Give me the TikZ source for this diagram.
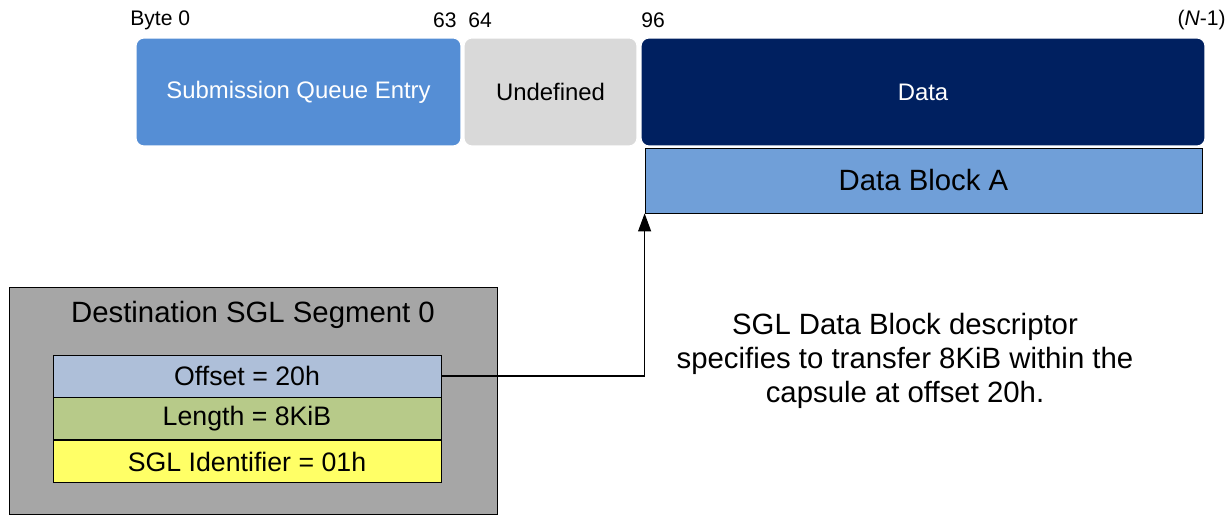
\documentclass[tikz,border=0pt]{standalone}
\usepackage{fontspec}
\setmainfont{Liberation Sans}
\usetikzlibrary{arrows.meta,positioning}
\definecolor{sqeblue}{RGB}{85,142,213}
\definecolor{undefgray}{RGB}{217,217,217}
\definecolor{datanavy}{RGB}{0,32,96}
\definecolor{blockblue}{RGB}{112,159,216}
\definecolor{seggray}{RGB}{166,166,166}
\definecolor{offsetblue}{RGB}{174,191,217}
\definecolor{lengthgreen}{RGB}{183,202,137}
\definecolor{sglyellow}{RGB}{255,255,102}

\begin{document}
\begin{tikzpicture}[x=0.02cm, y=-0.02cm,
    field/.style={rounded corners=0.16cm, draw=white, line width=0.6pt, minimum height=2.16cm,
      inner sep=0pt, font=\fontsize{13.6}{16}\selectfont},
    row/.style={draw=black, line width=0.5pt, minimum width=7.76cm, minimum height=0.84cm,
      inner sep=0pt, font=\fontsize{15.2}{18}\selectfont},
    bytelabel/.style={font=\fontsize{12}{14}\selectfont, inner sep=0pt}]
  \useasboundingbox (0,0) rectangle (1231,516);

  \node[field, fill=sqeblue, text=white, minimum width=6.5cm] (sqe) at (298.5,92) {Submission Queue Entry};
  \node[field, fill=undefgray, minimum width=3.46cm] (undef) at (550.5,92) {Undefined};
  \node[field, fill=datanavy, text=white, minimum width=11.28cm] (data) at (923,92) {Data};
  \node[draw=black, line width=0.5pt, fill=blockblue, minimum width=11.14cm, minimum height=1.3cm,
    inner sep=0pt, font=\fontsize{16.7}{20}\selectfont] (blocka) at (923.5,180.5) {Data Block A};

  \node[bytelabel, anchor=west] (byte0) at (130,20) {Byte 0};
  \node[bytelabel, anchor=east] (b63) at (457,20) {63};
  \node[bytelabel, anchor=west] (b64) at (468,20) {64};
  \node[bytelabel, anchor=west] (b96) at (641,20) {96};
  \node[bytelabel, anchor=east] (bN) at (1226,20) {(\textit{N}-1)};

  \node[draw=black, line width=0.5pt, fill=seggray, minimum width=9.76cm, minimum height=4.54cm] (segment) at (253,400.5) {};
  \node[font=\fontsize{16.7}{20}\selectfont] (segtitle) at (253,315) {Destination SGL Segment 0};
  \node[row, fill=offsetblue] (offset) at (247,376) {Offset = 20h};
  \node[row, fill=lengthgreen, below=0pt of offset] (length) {Length = 8KiB};
  \node[row, fill=sglyellow, below=0pt of length] (sglid) {SGL Identifier = 01h};

  \node[align=center, font=\fontsize{16.7}{19.3}\selectfont] (descr) at (905,361)
    {SGL Data Block descriptor\\specifies to transfer 8KiB within the\\capsule at offset 20h.};

  \draw[line width=0.6pt, -{Triangle[length=0.36cm, width=0.26cm]}] (offset.east) -| (blocka.south west);
\end{tikzpicture}
\end{document}
